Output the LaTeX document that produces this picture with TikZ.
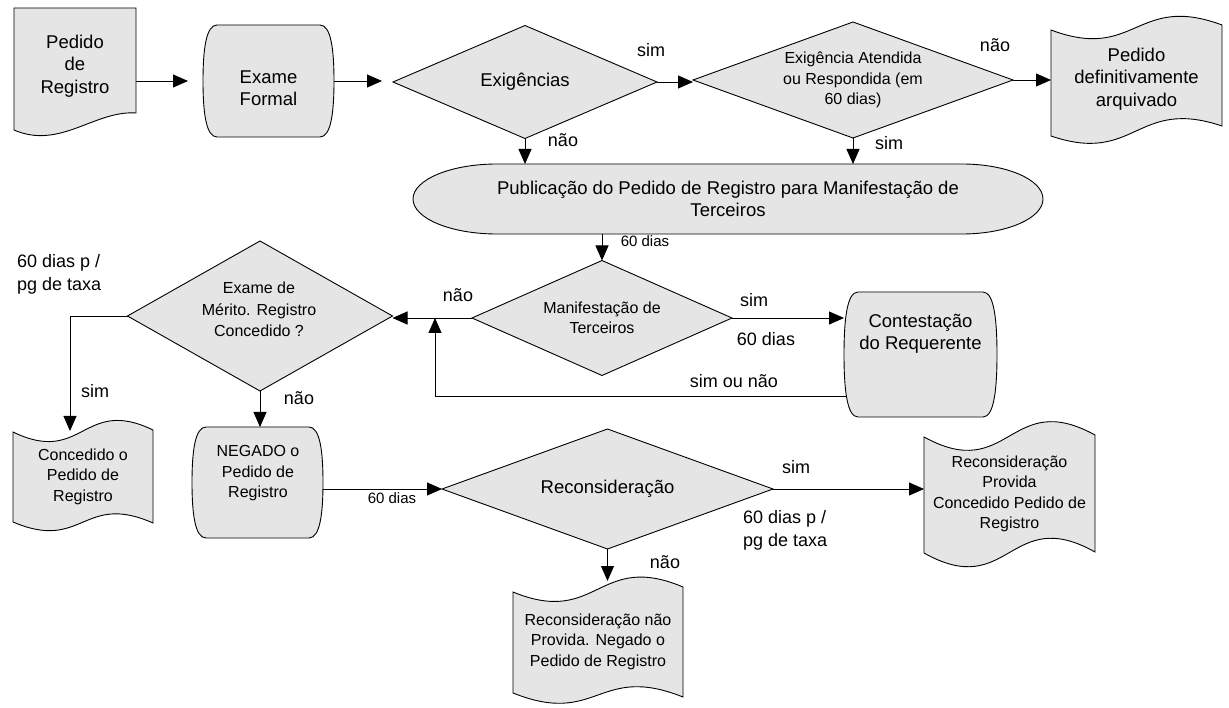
\documentclass[tikz,border=0pt]{standalone}
\usepackage{fontspec}
\setmainfont{Liberation Sans}
\usetikzlibrary{shapes.geometric,arrows.meta,calc}
\definecolor{shapegray}{RGB}{229,229,229}

% box with straight top/bottom edges and slightly bulging sides
\newcommand{\bulgebox}[4]{%
  \path[shp] ({#1+14},#2) -- ({#3-14},#2)
    .. controls ({#3-3},#2) and (#3,{#2+0.22*(#4-#2)}) .. (#3,{(#2+#4)/2})
    .. controls (#3,{#4-0.22*(#4-#2)}) and ({#3-3},#4) .. ({#3-14},#4)
    -- ({#1+14},#4)
    .. controls ({#1+3},#4) and (#1,{#4-0.22*(#4-#2)}) .. (#1,{(#2+#4)/2})
    .. controls (#1,{#2+0.22*(#4-#2)}) and ({#1+3},#2) .. cycle;}

\tikzset{
  shp/.style={draw=black, fill=shapegray, line width=0.9pt},
  dia/.style={shp, diamond, inner sep=0pt, outer sep=0pt, align=center},
  anchorbox/.style={rectangle, draw=none, fill=none, inner sep=0pt, outer sep=0pt, align=center},
  txt/.style={inner sep=0pt, align=center},
  bigfont/.style={font=\fontsize{18.5}{22.5}\selectfont},
  midfont/.style={font=\fontsize{16}{20.5}\selectfont},
  lab/.style={font=\fontsize{18}{23}\selectfont, inner sep=0pt, anchor=base},
  smalllab/.style={font=\fontsize{15}{18}\selectfont, inner sep=0pt, anchor=base},
  arr/.style={line width=0.9pt, -{Triangle[length=15pt,width=13pt]}},
}

\begin{document}
\begin{tikzpicture}[x=1pt, y=-1pt]
\fill[white] (0,0) rectangle (1229,708);
\useasboundingbox (0,0) rectangle (1229,708);

% ---------- outlines of the custom shapes ----------
% document: Pedido de Registro
\path[shp] (14,8) -- (136,8) -- (136,113)
  .. controls (95,110) and (60,150) .. (14,130) -- cycle;
% bulging boxes
\bulgebox{203}{25}{334}{137}
\bulgebox{844}{292}{997}{417}
\bulgebox{192}{427}{323}{538}
% elongated oval: Publicação
\path[shp] (497,164) -- (962,164)
  .. controls (1006.7,164) and (1043,179.7) .. (1043,199)
  .. controls (1043,218.3) and (1006.7,234) .. (962,234)
  -- (497,234)
  .. controls (450.6,234) and (413,218.3) .. (413,199)
  .. controls (413,179.7) and (450.6,164) .. cycle;
% punched tapes
\path[shp] (1051,30) .. controls (1136,62) and (1136,-7) .. (1222,25)
  -- (1222,126) .. controls (1136,97) and (1136,165) .. (1051,136) -- cycle;
\path[shp] (13,432) .. controls (83,466) and (83,396) .. (153,430)
  -- (153,523) .. controls (83,492) and (83,552) .. (13,522) -- cycle;
\path[shp] (924,437) .. controls (1009.5,484) and (1009.5,388) .. (1095,435)
  -- (1095,552) .. controls (1009.5,504) and (1009.5,601) .. (924,553) -- cycle;
\path[shp] (513,592) .. controls (598,627) and (598,551) .. (683,587)
  -- (683,697) .. controls (598,663) and (598,727) .. (513,693) -- cycle;

% ---------- nodes ----------
\node[anchorbox, bigfont, minimum width=122, minimum height=116] (ped) at (75,66) {Pedido\\de\\Registro};
\node[anchorbox, minimum width=131, minimum height=112] (exf) at (268.5,81) {};
\node[txt, bigfont] (exfT) at (268.5,88) {Exame\\Formal};
\node[dia, bigfont, minimum width=264, minimum height=113, shape aspect=2.34] (exig) at (525,82) {Exigências};
\node[dia, midfont, minimum width=320, minimum height=116, shape aspect=2.76] (atend) at (853,80) {Exigência Atendida\\ou Respondida (em\\60 dias)};
\node[anchorbox, bigfont, minimum width=171, minimum height=104] (arq) at (1136.5,79) {Pedido\\definitivamente\\arquivado};
\node[anchorbox, bigfont, minimum width=630, minimum height=70] (pub) at (728,199) {Publicação do Pedido de Registro para Manifestação de\\Terceiros};
\node[dia, midfont, minimum width=260, minimum height=115, shape aspect=2.26] (manif) at (602,318) {Manifestação de\\Terceiros};
\node[anchorbox, minimum width=153, minimum height=125] (cont) at (920.5,354.5) {};
\node[txt, bigfont] (contT) at (920.5,334) {Contestação\\do Requerente};
\node[dia, minimum width=265, minimum height=150] (merito) at (260,316) {};
\node[txt, font=\fontsize{16}{21.5}\selectfont] (meritoT) at (259,309.5) {Exame de\\Mérito. Registro\\Concedido ?};
\node[anchorbox, midfont, minimum width=140, minimum height=91] (conc) at (83,476.5) {Concedido o\\Pedido de\\Registro};
\node[anchorbox, minimum width=131, minimum height=111] (neg) at (257.5,482.5) {};
\node[txt, midfont] (negT) at (258,473.5) {NEGADO o\\Pedido de\\Registro};
\node[dia, bigfont, minimum width=331, minimum height=120, shape aspect=2.76] (recons) at (607.5,489) {Reconsideração};
\node[anchorbox, midfont, minimum width=171, minimum height=115] (rp) at (1009.5,494) {Reconsideração\\Provida\\Concedido Pedido de\\Registro};
\node[anchorbox, midfont, minimum width=170, minimum height=105] (rnp) at (598,641.5) {Reconsideração não\\Provida. Negado o\\Pedido de Registro};

% ---------- connectors ----------
\coordinate (loop) at (435,318);
\draw[arr, shorten >=15pt] (ped.east |- exf.west) -- (exf.west);
\draw[arr, shorten >=11pt] (exf.east) -- (exf.east -| exig.west);
\draw[arr] (exig.east) -- (exig.east -| atend.west);
\draw[arr] (atend.east) -- (atend.east -| arq.west);
\draw[arr] (exig.south) -- (exig.south |- pub.north);
\draw[arr] (atend.south) -- (atend.south |- pub.north);
\draw[arr] (manif.north |- pub.south) -- (manif.north);
\draw[arr] (manif.east) -- (manif.east -| cont.west);
\draw[arr] (manif.west) -- (manif.west -| merito.east);
\draw[arr] ($(cont.west)+(3,41.5)$) -| (loop);
\draw[arr] (merito.west) -| ([xshift=-13pt]conc.north);
\draw[arr] (merito.south) -- (merito.south |- neg.north);
\draw[arr] (neg.east |- recons.west) -- (recons.west);
\draw[arr] (recons.east) -- (recons.east -| rp.west);
\draw[arr, shorten >=8pt] (recons.south) -- (recons.south |- rnp.north);

% ---------- connector labels ----------
\node[lab] (l1) at (651,57) {sim};
\node[lab] (l2) at (563,147) {não};
\node[lab] (l3) at (995,52) {não};
\node[lab] (l4) at (889,150) {sim};
\node[smalllab] (l5) at (645,247) {60 dias};
\node[lab] (l6) at (458,302) {não};
\node[lab] (l7) at (754,307) {sim};
\node[lab] (l8) at (766,346) {60 dias};
\node[lab] (l9) at (734,388) {sim ou não};
\node[lab, anchor=north west, align=left] (l10) at (17,254) {60 dias p /\\pg de taxa};
\node[lab] (l11) at (95,398) {sim};
\node[lab] (l12) at (299,405) {não};
\node[smalllab] (l13) at (392,503) {60 dias};
\node[lab] (l14) at (796,473) {sim};
\node[lab, anchor=north west, align=left] (l15) at (743,510) {60 dias p /\\pg de taxa};
\node[lab] (l16) at (665,568) {não};
\end{tikzpicture}
\end{document}
